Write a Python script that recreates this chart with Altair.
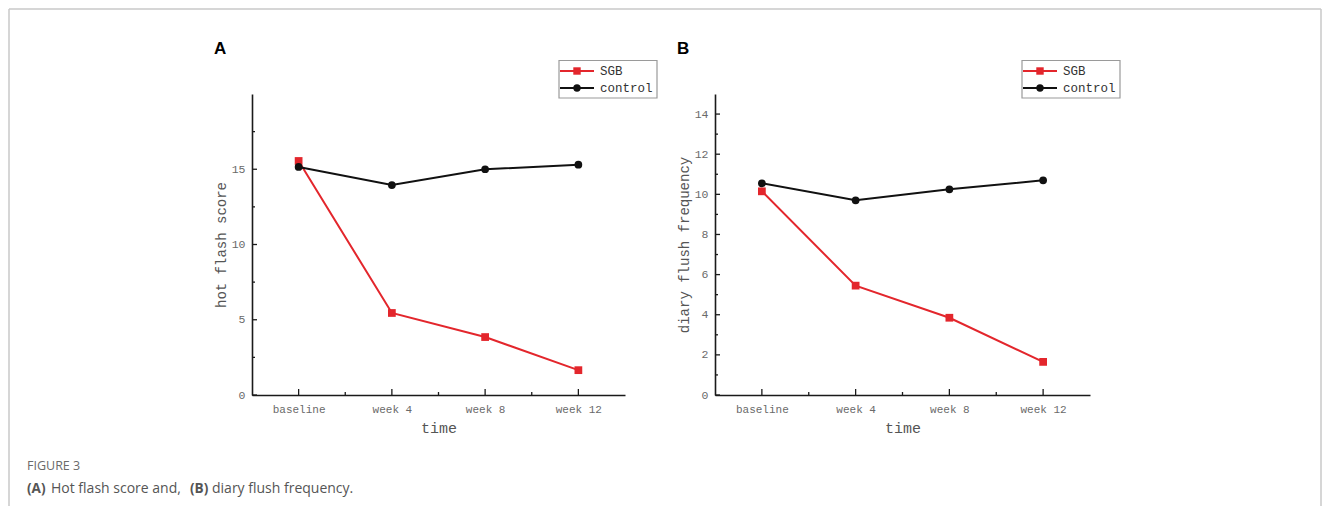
import altair as alt
import pandas as pd

# ---------------- data ----------------
categories = ["baseline", "week 4", "week 8", "week 12"]
series_names = ["SGB", "control"]

a_sgb = [15.55, 5.45, 3.85, 1.65]
a_control = [15.15, 13.95, 15.0, 15.3]
b_sgb = [10.15, 5.45, 3.85, 1.65]
b_control = [10.55, 9.7, 10.25, 10.7]

a_major = [0, 5, 10, 15]
a_minor = [2.5, 7.5, 12.5, 17.5]
b_major = [0, 2, 4, 6, 8, 10, 12, 14]
b_minor = [1, 3, 5, 7, 9, 11, 13]
x_major = [0, 1, 2, 3]
x_minor = [0.5, 1.5, 2.5]

panel_letters = ["A", "B"]
y_titles = ["hot flash score", "diary flush frequency"]
x_title = "time"
caption_head = "FIGURE 3"
caption_parts = ["(A)", "Hot flash score and,", "(B)", "diary flush frequency."]
caption_bold = [True, False, True, False]

# ---------------- style ----------------
COLORS = ["#e3262c", "#111111"]
SHAPES = ["square", "circle"]
MONO = "Liberation Mono"
AXIS_COLOR = "#1a1a1a"
W_A, W_B, H = 373, 375, 301


def panel(sgb, control, ymax, major, minor, ytitle, letter, width, extra):
    xscale = alt.Scale(domain=[-0.5, 3.5], nice=False, zero=False)
    yscale = alt.Scale(domain=[0, ymax], nice=False)
    label_expr = "[" + ",".join("'%s'" % c for c in categories) + "][datum.value]"
    x_axis = alt.Axis(values=x_major, labelExpr=label_expr, title=x_title,
                      ticks=False, tickSize=0, grid=False,
                      domainColor=AXIS_COLOR, domainWidth=1.6,
                      labelFont=MONO, labelFontSize=11, labelColor="#6a6a6a",
                      labelPadding=8, labelBaseline="top",
                      titleFont=MONO, titleFontSize=15, titleColor="#555555",
                      titleFontWeight="normal", titlePadding=6)
    y_axis = alt.Axis(values=major, title=ytitle, ticks=False, tickSize=0,
                      grid=False, domainColor=AXIS_COLOR, domainWidth=1.6,
                      labelFont=MONO, labelFontSize=11.5, labelColor="#6a6a6a",
                      labelPadding=7,
                      titleFont=MONO, titleFontSize=14, titleColor="#555555",
                      titleFontWeight="normal", titlePadding=3)
    layers = []
    for i, vals in enumerate([sgb, control]):
        df = pd.DataFrame({"idx": list(range(len(categories))),
                           "time": categories, "value": vals,
                           "series": series_names[i]})
        enc = dict(x=alt.X("idx:Q", scale=xscale, axis=x_axis),
                   y=alt.Y("value:Q", scale=yscale, axis=y_axis))
        layers.append(alt.Chart(df).mark_line(color=COLORS[i], strokeWidth=2).encode(**enc))
        layers.append(alt.Chart(df).mark_point(color=COLORS[i], filled=True, opacity=1,
                                               shape=SHAPES[i], size=60).encode(**enc))
    # inward ticks
    tick_col = AXIS_COLOR
    layers.append(alt.Chart(pd.DataFrame({"value": major})).mark_rule(color=tick_col, strokeWidth=1.3).encode(
        y=alt.Y("value:Q", scale=yscale, axis=y_axis), x=alt.value(0), x2=alt.value(5)))
    layers.append(alt.Chart(pd.DataFrame({"value": minor})).mark_rule(color=tick_col, strokeWidth=1.3).encode(
        y=alt.Y("value:Q", scale=yscale, axis=y_axis), x=alt.value(0), x2=alt.value(3)))
    layers.append(alt.Chart(pd.DataFrame({"idx": x_major})).mark_rule(color=tick_col, strokeWidth=1.3).encode(
        x=alt.X("idx:Q", scale=xscale, axis=x_axis), y=alt.value(H), y2=alt.value(H - 6)))
    layers.append(alt.Chart(pd.DataFrame({"idx": x_minor})).mark_rule(color=tick_col, strokeWidth=1.3).encode(
        x=alt.X("idx:Q", scale=xscale, axis=x_axis), y=alt.value(H), y2=alt.value(H - 3)))
    # panel letter
    layers.append(alt.Chart(pd.DataFrame({"t": [letter]})).mark_text(
        font="Liberation Sans", fontWeight="bold", fontSize=17, align="left",
        baseline="middle", color="#000000").encode(
        x=alt.value(-38), y=alt.value(-45), text="t:N"))
    # legend box + entries
    layers.append(alt.Chart(pd.DataFrame({"t": [0]})).mark_rect(
        fill="#ffffff", stroke="#9a9a9a", strokeWidth=1.2).encode(
        x=alt.value(307), x2=alt.value(405), y=alt.value(-33.5), y2=alt.value(4)))
    row_y = [-23, -6]
    for i, name in enumerate(series_names):
        ldf = pd.DataFrame({"name": [name]})
        layers.append(alt.Chart(ldf).mark_rule(color=COLORS[i], strokeWidth=2.2).encode(
            x=alt.value(308), x2=alt.value(342), y=alt.value(row_y[i])))
        layers.append(alt.Chart(ldf).mark_point(color=COLORS[i], filled=True, opacity=1,
                                                shape=SHAPES[i], size=55).encode(
            x=alt.value(325), y=alt.value(row_y[i])))
        layers.append(alt.Chart(ldf).mark_text(font=MONO, fontSize=12.5, color="#333333",
                                               align="left", baseline="middle").encode(
            x=alt.value(348), y=alt.value(row_y[i]), text="name:N"))
    if extra:
        frame = "#c8c8c8"
        fdf = pd.DataFrame({"t": [0]})
        layers.append(alt.Chart(fdf).mark_rule(color=frame, strokeWidth=1.5).encode(
            x=alt.value(-243), y=alt.value(-85), y2=alt.value(412)))
        layers.append(alt.Chart(fdf).mark_rule(color=frame, strokeWidth=1.5).encode(
            x=alt.value(-243), x2=alt.value(1069), y=alt.value(-85)))
        layers.append(alt.Chart(fdf).mark_rule(color=frame, strokeWidth=1.5).encode(
            x=alt.value(1069), y=alt.value(-85), y2=alt.value(412)))
        layers.append(alt.Chart(pd.DataFrame({"t": [caption_head]})).mark_text(
            font="Open Sans", fontSize=12.5, color="#6a6a6a", align="left",
            baseline="middle").encode(x=alt.value(-225), y=alt.value(372), text="t:N"))
        xs = [-225, -201, -62, -40]
        for j, part in enumerate(caption_parts):
            layers.append(alt.Chart(pd.DataFrame({"t": [part]})).mark_text(
                font="Open Sans", fontSize=13.6 if caption_bold[j] else 14,
                color="#555555", align="left",
                baseline="middle", fontWeight="bold" if caption_bold[j] else "normal").encode(
                x=alt.value(xs[j]), y=alt.value(395), text="t:N"))
    return alt.layer(*layers).properties(width=width, height=H)


pa = panel(a_sgb, a_control, 20, a_major, a_minor, y_titles[0], panel_letters[0], W_A, True)
pb = panel(b_sgb, b_control, 15, b_major, b_minor, y_titles[1], panel_letters[1], W_B, False)

chart = alt.hconcat(pa, pb, spacing=90, bounds="flush").properties(
    padding=0, background="#ffffff"
).configure_view(stroke=None)

chart.save("out.html", embed_options={"renderer": "svg", "actions": False})
